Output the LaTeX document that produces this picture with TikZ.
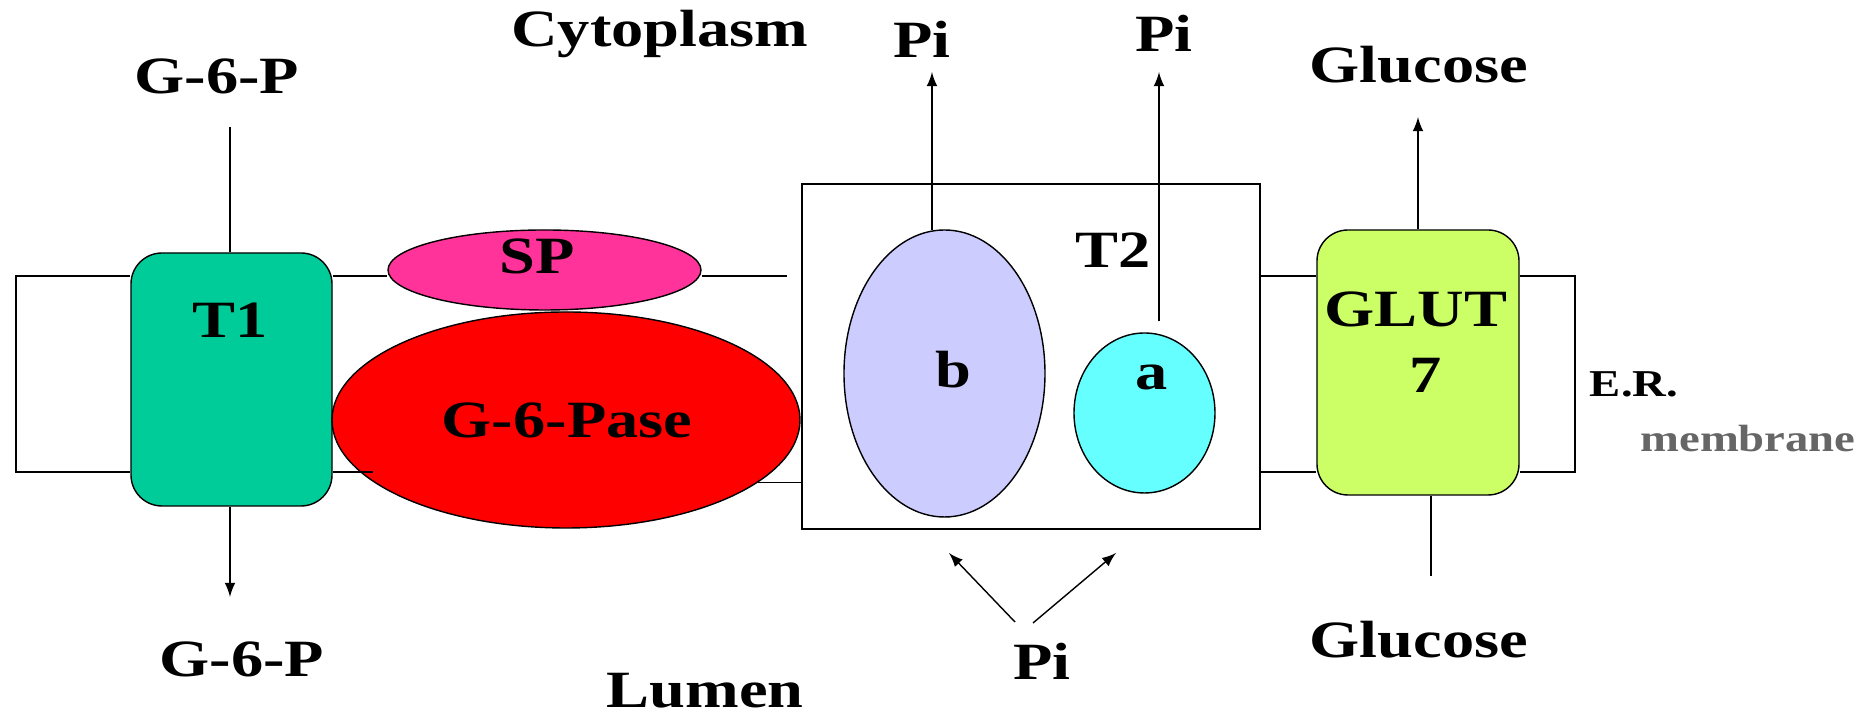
\documentclass[tikz,border=0pt]{standalone}
\usepackage{fontspec}
\setmainfont{Liberation Serif}[FakeStretch=1.23]
\usepackage{tikz}
\usetikzlibrary{shapes.geometric, arrows, positioning, calc}
\tikzset{>=latex}
\tikzset{font=\fontsize{14.9}{17}\selectfont\bfseries}
\definecolor{tonegreen}{HTML}{00CC99}
\definecolor{sppink}{HTML}{FF3399}
\definecolor{pasered}{HTML}{FF0000}
\definecolor{blilac}{HTML}{CCCCFF}
\definecolor{acyan}{HTML}{66FFFF}
\definecolor{glutlime}{HTML}{CCFF66}
\definecolor{memgray}{HTML}{666666}
\tikzset{
  prot/.style={draw=black, inner sep=0pt},
  carrier/.style={prot, rectangle, rounded corners=0.31cm},
  blob/.style={prot, ellipse},
  txt/.style={anchor=base, inner sep=0pt},
  smalltxt/.style={txt, font=\fontsize{10.8}{12}\selectfont\bfseries}
}

\begin{document}
\begin{tikzpicture}[x=1cm, y=-1cm]
  \useasboundingbox (0,0) rectangle (18.72,7.17);

  % proteins in the membrane
  \node[carrier, fill=tonegreen, minimum width=2.01cm, minimum height=2.53cm] (T1) at (2.315,3.795) {};
  \node[blob, fill=sppink, minimum width=3.13cm, minimum height=0.80cm] (SP) at (5.445,2.70) {};
  \node[blob, fill=pasered, minimum width=4.68cm, minimum height=2.16cm] (G6Pase) at (5.66,4.20) {};
  \node[prot, minimum width=4.58cm, minimum height=3.45cm] (T2) at (10.31,3.565) {};
  \node[blob, fill=blilac, minimum width=2.01cm, minimum height=2.87cm] (b) at (9.445,3.735) {};
  \node[blob, fill=acyan, minimum width=1.41cm, minimum height=1.60cm] (a) at (11.445,4.13) {};
  \node[carrier, fill=glutlime, minimum width=2.02cm, minimum height=2.65cm] (GLUT) at (14.18,3.625) {};

  % their labels
  \node[txt] (T1txt) at (2.30,3.38) {T1};
  \node[txt] (SPtxt) at (5.37,2.74) {SP};
  \node[txt] (G6Pasetxt) at (5.67,4.38) {G-6-Pase};
  \node[txt] (T2txt) at (11.13,2.68) {T2};
  \node[txt] (btxt) at (9.53,3.88) {b};
  \node[txt] (atxt) at (11.52,3.90) {a};
  \node[txt] (GLUTtxt) at (14.16,3.27) {GLUT};
  \node[txt] (seventxt) at (14.26,3.93) {7};

  % membrane
  \coordinate (mtl) at (0.16,2.76);
  \coordinate (mbl) at (0.16,4.72);
  \coordinate (mtr) at (15.75,2.76);
  \coordinate (mbr) at (15.75,4.72);
  \coordinate (mgap) at (7.87,2.76);
  \coordinate (mred) at (3.73,4.72);
  \draw (T1.west |- mtl) -- (mtl) -- (mbl) -- (T1.west |- mbl);
  \draw (T1.east |- mtl) -- (SP.west |- mtl);
  \draw (SP.east |- mtl) -- (mgap);
  \draw (T1.east |- mbl) -- (mred);
  \draw (G6Pase.-18.3) -- (G6Pase.-18.3 -| T2.west);
  \draw (T2.east |- mtl) -- (GLUT.west |- mtl);
  \draw (T2.east |- mbl) -- (GLUT.west |- mbl);
  \draw (GLUT.east |- mtr) -- (mtr) -- (mbr) -- (GLUT.east |- mbr);

  % compartments and substrates
  \node[txt] (cyto) at (6.60,0.47) {Cytoplasm};
  \node[txt] (lumen) at (7.05,7.08) {Lumen};
  \node[txt] (g6pIn) at (2.17,0.94) {G-6-P};
  \node[txt] (g6pOut) at (2.42,6.77) {G-6-P};
  \node[txt] (piB) at (9.22,0.58) {Pi};
  \node[txt] (piA) at (11.64,0.52) {Pi};
  \node[txt] (piIn) at (10.42,6.80) {Pi};
  \node[txt] (glcOut) at (14.19,0.83) {Glucose};
  \node[txt] (glcIn) at (14.19,6.58) {Glucose};
  \node[smalltxt] (er) at (16.34,3.97) {E.R.};
  \node[smalltxt, text=memgray] (memtxt) at (17.48,4.52) {membrane};

  % transport
  \coordinate (g6pTop) at (2.30,1.27);
  \coordinate (g6pTip) at (2.30,5.97);
  \coordinate (piBtip) at (9.31,0.72);
  \coordinate (piAtip) at (11.59,0.72);
  \coordinate (glcTip) at (14.17,1.17);
  \coordinate (glcTail) at (14.31,5.76);
  \coordinate (piInL) at (10.15,6.22);
  \coordinate (piInR) at (10.33,6.23);
  \coordinate (piTipL) at (9.49,5.53);
  \coordinate (piTipR) at (11.16,5.53);
  \draw (g6pTop) -- (g6pTop |- T1.north);
  \draw[->] (g6pTip |- T1.south) -- (g6pTip);
  \draw[->] (b.95) -- (b.95 |- piBtip);
  \draw[->] (piAtip |- a.north) ++(0,-0.11) -- (piAtip);
  \draw[->] (GLUT.north) -- (GLUT.north |- glcTip);
  \draw (glcTail |- GLUT.south) -- (glcTail);
  \draw[->] (piInL) -- (piTipL);
  \draw[->] (piInR) -- (piTipR);
\end{tikzpicture}
\end{document}
